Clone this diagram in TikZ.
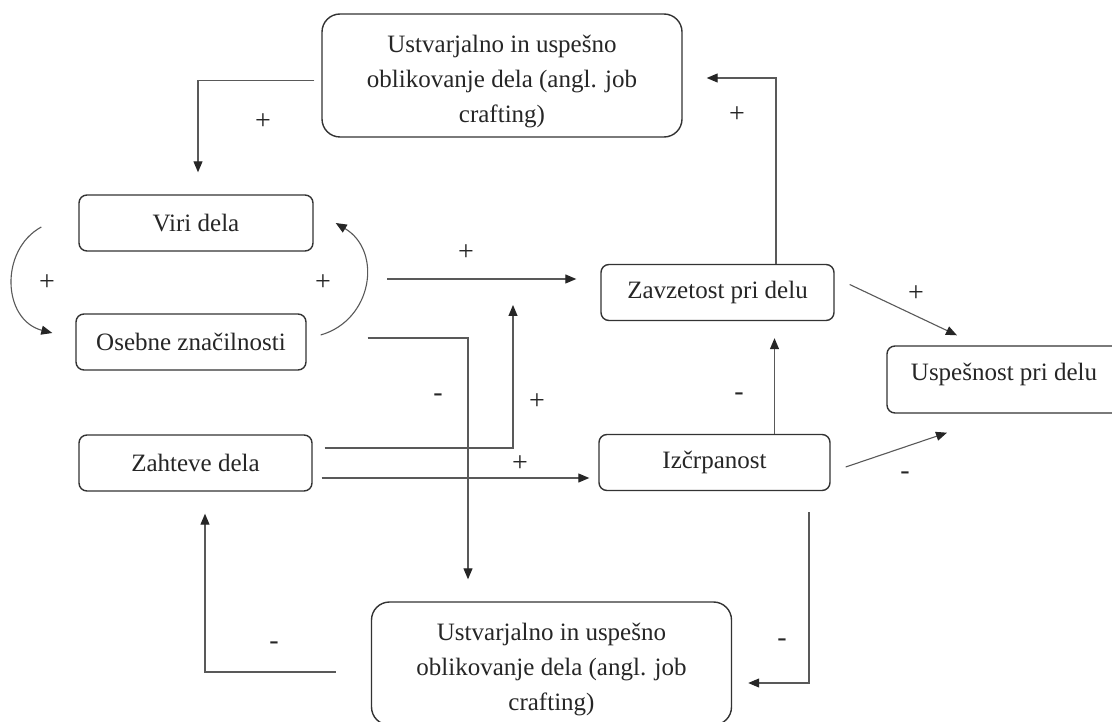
\documentclass[tikz,border=0pt]{standalone}
\usepackage{fontspec}
\setmainfont{Liberation Serif}
\usetikzlibrary{arrows.meta}

\tikzset{
  box/.style={draw=black!80, line width=1.4pt, rounded corners=8pt, inner sep=0pt,
    minimum height=56pt, minimum width=233pt, text=black!85,
    font=\fontsize{25}{35}\selectfont, align=center},
  bigbox/.style={box, rounded corners=18pt, minimum width=360pt, minimum height=123pt},
  link/.style={draw=black!65, line width=1.1pt, -{Triangle[length=11pt,width=9pt,color=black!85]}},
  sign/.style={font=\fontsize{28}{30}\selectfont, text=black!85, inner sep=0pt}
}
\newcommand\lowstrut{\rule{0pt}{30pt}}
\newcommand\deepstrut{\rule[-16pt]{0pt}{16pt}}

\begin{document}
\begin{tikzpicture}[x=1pt,y=-1pt]
\useasboundingbox[fill=white] (0,0) rectangle (1112,722);

\node[bigbox] (craftup) at (502,75.5) {\lowstrut Ustvarjalno in uspešno\\oblikovanje dela (angl. job\\crafting)};
\node[box, minimum width=234pt] (viri) at (196,223) {Viri dela};
\node[box, minimum width=230pt] (osebne) at (191,342) {Osebne značilnosti};
\node[box] (zahteve) at (195.5,463) {Zahteve dela};
\node[box] (zavzetost) at (717.5,292.5) {Zavzetost pri delu};
\node[box, minimum width=231pt] (izcrpanost) at (714.5,462.5) {Izčrpanost};
\node[box, minimum width=234pt, minimum height=67pt] (uspesnost) at (1004,379.5) {Uspešnost pri delu\deepstrut};
\node[bigbox] (craftdown) at (551.5,663.5) {\lowstrut Ustvarjalno in uspešno\\oblikovanje dela (angl. job\\crafting)};

% points on the viri/osebne -> zavzetost arrow
\coordinate (loopout) at (387,279);
\coordinate (modpt) at (513,279);

\draw[link, shorten <=7pt, shorten >=22pt] ([yshift=-5pt]craftup.west) -| ([xshift=2pt]viri.north);
\draw[link, shorten >=24pt] ([xshift=58.5pt]zavzetost.north) |- ([yshift=-2.5pt]craftup.east);

% loop between viri and osebne
\draw[link] ([xshift=-37pt,yshift=-4pt]viri.west) .. controls +(-42,23) and +(-50,-13) .. ([xshift=-23pt,yshift=9pt]osebne.west);
\draw[link] ([xshift=14pt,yshift=7pt]osebne.east) .. controls +(52,-15) and +(47,28) .. ([xshift=22pt]viri.east);
\draw[link, shorten >=24pt] (loopout) -- (loopout -| zavzetost.west);

\draw[link, shorten >=22pt] ([xshift=61pt,yshift=4pt]osebne.east) -| ([xshift=-83.5pt]craftdown.north);
\draw[link, shorten >=26pt] ([xshift=12pt,yshift=15pt]zahteve.east) -| (modpt);
\draw[link, shorten >=9pt] ([xshift=9pt,yshift=-15pt]zahteve.east) coordinate (zlow) -- (zlow -| izcrpanost.west);
\draw[link, shorten >=17pt] ([xshift=60pt]izcrpanost.north) coordinate (iup) -- (iup |- zavzetost.south);

\draw[link] ([xshift=15pt,yshift=8pt]zavzetost.east) -- ([xshift=-47pt,yshift=10pt]uspesnost.north);
\draw[link] ([xshift=15pt,yshift=-4.5pt]izcrpanost.east) -- ([xshift=-57pt,yshift=-19pt]uspesnost.south);

\draw[link, shorten >=16pt] ([xshift=94.5pt,yshift=-21pt]izcrpanost.south) |- ([yshift=-19.5pt]craftdown.east);
\draw[link, shorten >=22pt] ([xshift=-35pt,yshift=-8.5pt]craftdown.west) -| ([xshift=9.5pt]zahteve.south);

% signs
\foreach \sg/\px/\py [count=\i] in {+/263/122, +/737/115, +/47/283, +/323/283, +/466/253,
    -/438/398, +/537/402, +/520/464, -/739/397, +/916/294, -/905/476, -/782/643, -/274/646}
  \node[sign] (sign\i) at (\px,\py) {\sg};
\end{tikzpicture}
\end{document}
